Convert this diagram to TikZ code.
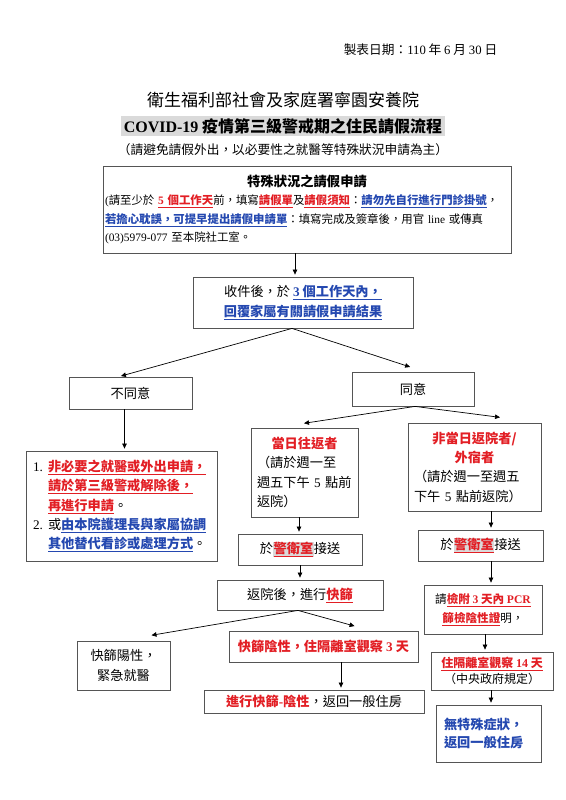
\documentclass[tikz,border=0pt]{standalone}
\usepackage{fontspec}
\usepackage{xcolor}
\usepackage{tikz}
\usetikzlibrary{positioning,arrows.meta}
\setmainfont{Liberation Serif}
\newfontfamily\cjk{Noto Sans CJK TC}
\definecolor{alertred}{RGB}{226,30,36}
\definecolor{noteblue}{RGB}{36,72,176}
\definecolor{hlgray}{RGB}{218,218,218}
\definecolor{boxgray}{RGB}{85,85,85}
\newcommand{\en}[1]{{\rmfamily #1}}
\newcommand{\redul}[1]{\textcolor{alertred}{\bfseries\underline{#1}}}
\newcommand{\blueul}[1]{\textcolor{noteblue}{\bfseries\underline{#1}}}
\newcommand{\redbf}[1]{\textcolor{alertred}{\bfseries #1}}
\newcommand{\bluebf}[1]{\textcolor{noteblue}{\bfseries #1}}
\newcommand{\guard}{{\setlength{\fboxsep}{0.6pt}\colorbox{hlgray}{\redul{警衛室}}}}

\begin{document}
\begin{tikzpicture}[x=1pt,y=-1pt,
  every node/.style={font=\cjk\fontsize{13.2}{19.3}\selectfont},
  box/.style={draw=boxgray,line width=0.8pt,inner sep=2pt},
  arr/.style={-{Triangle[length=5pt,width=4.5pt]},line width=0.7pt,shorten >=2pt}]
  \useasboundingbox (0,0) rectangle (565,800);

  % heading
  \node[font=\cjk\fontsize{12.7}{15}\selectfont] (date) at (420.5,50) {製表日期：\en{110} 年 \en{6} 月 \en{30} 日};
  \node[font=\cjk\fontsize{17}{20}\selectfont] (title1) at (283,100) {衛生福利部社會及家庭署寧園安養院};
  \node[font=\cjk\fontsize{16}{20}\selectfont] (title2) at (283,126)
    {\setlength{\fboxsep}{2.5pt}\colorbox{hlgray}{\bfseries\en{COVID-19} 疫情第三級警戒期之住民請假流程}};
  \node[font=\cjk\fontsize{12.7}{15}\selectfont] (sub) at (283,150) {（請避免請假外出，以必要性之就醫等特殊狀況申請為主）};

  % application
  \node[box,text width=404pt,minimum height=87pt,align=left,
        font=\cjk\fontsize{11.4}{18.6}\selectfont] (req) at (307,209.5) {%
    \makebox[\linewidth]{\fontsize{13.3}{18.6}\selectfont\bfseries 特殊狀況之請假申請}\\
    \en{(}請至少於 \redul{\en{5} 個工作天}前，填寫\redul{請假單}及\redul{請假須知}：\blueul{請勿先自行進行門診掛號}，\\
    \blueul{若擔心耽誤，可提早提出請假申請單}：填寫完成及簽章後，用官 \en{line} 或傳真\\
    \en{(03)5979-077} 至本院社工室。};
  \node[box,minimum width=220pt,minimum height=51pt,align=center,
        font=\cjk\fontsize{13.2}{20}\selectfont] (reply) at (303,302.5)
    {收件後，於 \blueul{\en{3} 個工作天內，}\\\blueul{回覆家屬有關請假申請結果}};

  % decision
  \node[box,minimum width=123pt,minimum height=32pt] (refuse) at (130.5,393) {不同意};
  \node[box,minimum width=122pt,minimum height=34pt] (agree) at (413,389) {同意};

  % not agreed
  \node[box,text width=177pt,inner xsep=7pt,minimum height=110pt,align=left] (later) at (121.5,506) {%
    \makebox[15pt][l]{\en{1.}}\redul{非必要之就醫或外出申請，}\\
    \hspace*{15pt}\redul{請於第三級警戒解除後，}\\
    \hspace*{15pt}\redul{再進行申請}。\\
    \makebox[15pt][l]{\en{2.}}或\blueul{由本院護理長與家屬協調}\\
    \hspace*{15pt}\blueul{其他替代看診或處理方式}。};

  % same day
  \node[box,text width=95pt,inner xsep=6pt,minimum height=89pt,align=left] (dayret) at (304.5,472.5)
    {\makebox[\linewidth]{\redbf{當日往返者}}\\（請於週一至\\週五下午 \en{5} 點前\\返院）};
  \node[box,minimum width=124pt,minimum height=31pt] (gateL) at (300,549.5) {於\guard 接送};
  \node[box,minimum width=166pt,minimum height=30pt] (screen) at (300,595) {返院後，進行\redul{快篩}};
  \node[box,minimum width=93pt,minimum height=49pt,align=center,
        font=\cjk\fontsize{13.2}{20}\selectfont] (positive) at (123.5,665.5) {快篩陽性，\\緊急就醫};
  \node[box,minimum width=189pt,minimum height=31pt] (negative) at (323.5,646.5)
    {\redbf{快篩陰性，住隔離室觀察 \en{3} 天}};
  \node[box,minimum width=220pt,minimum height=23pt] (backroom) at (314,701.5)
    {\redbf{進行快篩\en{-}陰性}，返回一般住房};

  % overnight
  \node[box,text width=121pt,inner xsep=6pt,minimum height=88pt,align=left] (stayout) at (474.5,467)
    {\makebox[\linewidth]{\redbf{非當日返院者/}}\\\makebox[\linewidth]{\redbf{外宿者}}\\（請於週一至週五\\下午 \en{5} 點前返院）};
  \node[box,minimum width=125pt,minimum height=31pt] (gateR) at (480.5,545.5) {於\guard 接送};
  \node[box,minimum width=118pt,minimum height=49pt,align=center,
        font=\cjk\fontsize{11.6}{19}\selectfont] (pcr) at (483,609.5)
    {請\redul{檢附 \en{3} 天內 \en{PCR}}\\\redul{篩檢陰性證}明，};
  \node[box,minimum width=122pt,minimum height=38pt,align=center,
        font=\cjk\fontsize{12}{16}\selectfont] (quar) at (492,671)
    {\redul{住隔離室觀察 \en{14} 天}\\（中央政府規定）};
  \node[box,text width=89pt,inner xsep=8pt,minimum height=57pt,align=left,
        font=\cjk\fontsize{13.2}{18}\selectfont] (normal) at (488.5,733.5)
    {\bluebf{無特殊症狀，}\\\bluebf{返回一般住房}};

  % connectors
  \draw[arr] ([xshift=-12pt]req.south) -- ([xshift=-12pt]req.south |- reply.north);
  \draw[arr] ([xshift=-11pt]reply.south) -- ([xshift=-11.5pt]refuse.north);
  \draw[arr] ([xshift=-11pt]reply.south) -- ([shift={(-1,-4)}]agree.north);
  \draw[arr] ([xshift=-6pt]refuse.south) -- ([xshift=-6pt]refuse.south |- later.north);
  \draw[arr] ([xshift=2pt]agree.south) -- ([shift={(-2.5,-4)}]dayret.north);
  \draw[arr] ([xshift=2pt]agree.south) -- ([shift={(27.5,-5)}]stayout.north);
  \draw[arr] ([xshift=-5.5pt]dayret.south) -- ([xshift=-5.5pt]dayret.south |- gateL.north);
  \draw[arr] (gateL.south) -- (screen.north);
  \draw[arr] ([xshift=-2pt]screen.south) -- ([shift={(26,-5)}]positive.north);
  \draw[arr] ([xshift=-2pt]screen.south) -- ([shift={(33,-4)}]negative.north);
  \draw[arr] ([xshift=17.5pt]negative.south) -- ([xshift=17.5pt]negative.south |- backroom.north);
  \draw[arr] ([xshift=16.5pt]stayout.south) -- ([xshift=16.5pt]stayout.south |- gateR.north);
  \draw[arr] ([xshift=10.5pt]gateR.south) -- ([xshift=10.5pt]gateR.south |- pcr.north);
  \draw[arr] ([xshift=2pt]pcr.south) -- ([xshift=2pt]pcr.south |- quar.north);
  \draw[arr] ([xshift=-1pt]quar.south) -- ([xshift=-1pt]quar.south |- normal.north);
\end{tikzpicture}
\end{document}
